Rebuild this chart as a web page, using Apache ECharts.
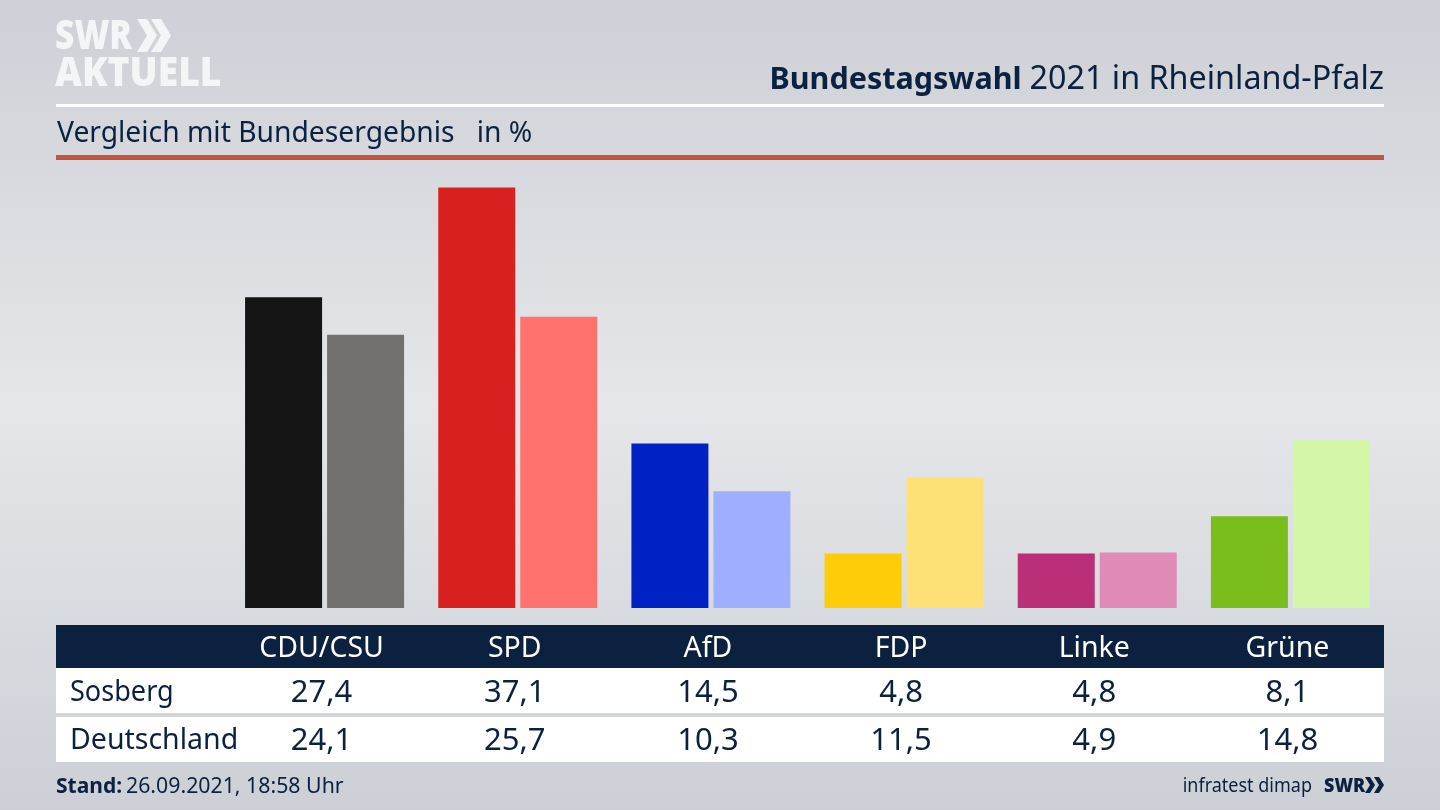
<!DOCTYPE html>
<html>
<head>
<meta charset="utf-8">
<title>Bundestagswahl 2021 in Rheinland-Pfalz</title>
<style>
  html, body { margin: 0; padding: 0; }
  #chart { width: 1440px; height: 810px; }
</style>
<script src="https://cdn.jsdelivr.net/npm/echarts@6/dist/echarts.min.js"></script>
</head>
<body>
<div id="chart"></div>
<script>
var parties = ['CDU/CSU', 'SPD', 'AfD', 'FDP', 'Linke', 'Grüne'];
var sosberg = [27.4, 37.1, 14.5, 4.8, 4.8, 8.1];
var deutschland = [24.1, 25.7, 10.3, 11.5, 4.9, 14.8];
var sosbergColors = ['#141414', '#d8201e', '#0022c4', '#ffcc0a', '#bb2e78', '#7abd1c'];
var deutschlandColors = ['#72716e', '#ff726e', '#a0aeff', '#ffe077', '#e08ab8', '#d3f6a8'];

var navy = '#0c2140';
var font = '"Noto Sans"';

function coloured(values, colors) {
    return values.map(function(v, i) {
        return { value: v, itemStyle: { color: colors[i] } };
    });
}

function comma(v) {
    return v.toFixed(1).replace('.', ',');
}

function rect(x, y, w, h, color, z) {
    return { type: 'rect', z: z || 1, shape: { x: x, y: y, width: w, height: h }, style: { fill: color } };
}

function text(x, y, str, size, color, align, weight, squeeze) {
    return {
        type: 'text', z: 5, x: x, y: y, scaleX: squeeze || 1,
        style: {
            text: str, fill: color, align: align || 'left', verticalAlign: 'middle',
            font: (weight || 'normal') + ' ' + size + 'px ' + font
        }
    };
}

function chevron(x, y, w, h, t, color) {
    return {
        type: 'polygon', z: 5,
        shape: { points: [[x, y], [x + t, y], [x + w, y + h / 2], [x + t, y + h], [x, y + h], [x + w - t, y + h / 2]] },
        style: { fill: color }
    };
}

var chart = echarts.init(document.getElementById('chart'));

chart.setOption({
    animation: false,
    backgroundColor: {
        type: 'linear', x: 0, y: 0, x2: 0, y2: 1,
        colorStops: [
            { offset: 0, color: '#cdd0d6' },
            { offset: 0.5, color: '#e5e6e9' },
            { offset: 1, color: '#ccd0d6' }
        ]
    },
    grid: { left: 228, width: 1159, top: 154.5, height: 453.5 },
    xAxis: {
        type: 'category',
        data: parties,
        axisLine: { show: false },
        axisTick: { show: false },
        axisLabel: { color: '#ffffff', fontSize: 28.5, fontFamily: font, margin: 26, padding: [0, 6, 0, 0] }
    },
    yAxis: { type: 'value', min: 0, max: 40, show: false },
    series: [
        { name: 'Sosberg', type: 'bar', barWidth: 77, barGap: '6.5%', data: coloured(sosberg, sosbergColors) },
        { name: 'Deutschland', type: 'bar', barWidth: 77, barGap: '6.5%', data: coloured(deutschland, deutschlandColors) }
    ]
});

// header, table and footer sit outside the plot, columns follow the category axis
var items = [
    rect(56, 104, 1328, 3, '#ffffff'),
    rect(56, 155, 1328, 5, '#c8513d'),
    rect(56, 625, 1328, 43, navy, -10),
    rect(56, 668, 1328, 45, '#ffffff'),
    rect(56, 717, 1328, 45, '#ffffff'),
    text(55, 38, 'SWR', 40, '#f4f5f6', 'left', '900', 0.84),
    text(55, 75, 'AKTUELL', 40, '#f4f5f6', 'left', '900', 0.93),
    chevron(137, 19, 20, 33, 10, '#f4f5f6'),
    chevron(151, 19, 20, 33, 10, '#f4f5f6'),
    {
        type: 'text', z: 5, x: 1384, y: 80,
        style: {
            text: '{b|Bundestagswahl }{r|2021 in Rheinland-Pfalz}', align: 'right', verticalAlign: 'middle',
            rich: {
                b: { font: 'bold 30.5px ' + font, fill: navy },
                r: { font: 'normal 32.3px ' + font, fill: navy }
            }
        }
    },
    text(57, 134, 'Vergleich mit Bundesergebnis   in %', 28.25, navy),
    text(70, 693, 'Sosberg', 28.5, navy, 'left', 'normal', 0.95),
    text(70, 741, 'Deutschland', 28.5, navy),
    text(56, 787, 'Stand:', 21, navy, 'left', 'bold'),
    text(126, 787, '26.09.2021, 18:58 Uhr', 21.3, navy),
    text(1312, 786, 'infratest dimap', 20, navy, 'right', 'normal', 0.9),
    text(1324, 786, 'SWR', 20, navy, 'left', '900', 0.9),
    chevron(1365, 777, 10, 16, 5, navy),
    chevron(1374, 777, 10, 16, 5, navy)
];

parties.forEach(function(p, i) {
    var x = chart.convertToPixel({ xAxisIndex: 0 }, p) - 3;
    items.push(text(x, 693, comma(sosberg[i]), 31, navy, 'center'));
    items.push(text(x, 741, comma(deutschland[i]), 31, navy, 'center'));
});

chart.setOption({ graphic: { elements: items } });
</script>
</body>
</html>
